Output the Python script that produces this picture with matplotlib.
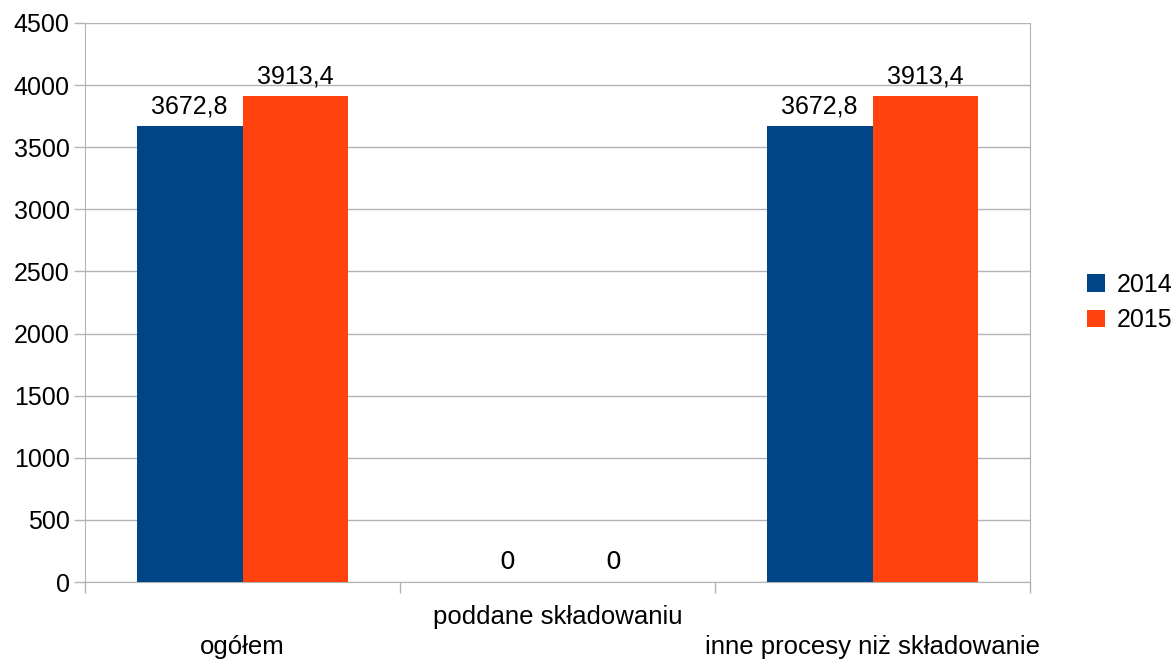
import numpy as np
import matplotlib.pyplot as plt

plt.rcParams['font.family'] = ['Liberation Sans', 'DejaVu Sans']

categories = ['ogółem', 'poddane składowaniu', 'inne procesy niż składowanie']
years = ['2014', '2015']
values_2014 = [3672.8, 0, 3672.8]
values_2015 = [3913.4, 0, 3913.4]
colors = ['#004586', '#ff420e']

fig = plt.figure(figsize=(11.75, 6.6), dpi=100)
ax = fig.add_axes([85 / 1175, 1 - 582 / 660, 945 / 1175, 559 / 660])

x = np.arange(len(categories))
w = 0.336
grid_c = '#b3b3b3'

for i, (vals, c) in enumerate(zip([values_2014, values_2015], colors)):
    pos = x + (i - 0.5) * w
    ax.bar(pos, vals, width=w, color=c, label=years[i], zorder=3)
    for p, v in zip(pos, vals):
        if v:
            ax.annotate(('%.1f' % v).replace('.', ','), (p, v), xytext=(0, 5),
                        textcoords='offset points', ha='center', va='bottom',
                        fontsize=18)
        else:
            # zero labels are rendered in a different font in the source
            ax.annotate('0', (p, v), xytext=(2, 6), textcoords='offset points',
                        ha='center', va='bottom', fontsize=18,
                        family='DejaVu Sans')

ax.set_xlim(-0.5, 2.5)
ax.set_ylim(0, 4500)
ax.set_yticks(np.arange(0, 4501, 500))
ax.yaxis.grid(True, color=grid_c, linewidth=1, zorder=0)
ax.tick_params(axis='y', labelsize=18, length=8, color=grid_c, width=1, pad=3)

# category boundary ticks
ax.set_xticks([-0.5, 0.5, 1.5, 2.5])
ax.set_xticklabels([])
ax.tick_params(axis='x', length=8, color=grid_c, width=1)

# staggered category labels
for i, cat in enumerate(categories):
    yoff = -33 if i % 2 == 1 else -63
    ax.annotate(cat, (i, 0), xycoords=('data', 'axes fraction'),
                xytext=(0, yoff * 0.72 - 1.5), textcoords='offset points',
                ha='center', va='center', fontsize=18.5)

ax.spines['top'].set_visible(False)
for s in ['left', 'bottom', 'right']:
    ax.spines[s].set_color(grid_c)

ax.legend(loc='center left', bbox_to_anchor=(1.05, 0.5), frameon=False,
          fontsize=18, handlelength=0.7, handleheight=0.7, handletextpad=0.5,
          labelspacing=0.45, borderaxespad=0)

fig.savefig('out.png', dpi=100)
